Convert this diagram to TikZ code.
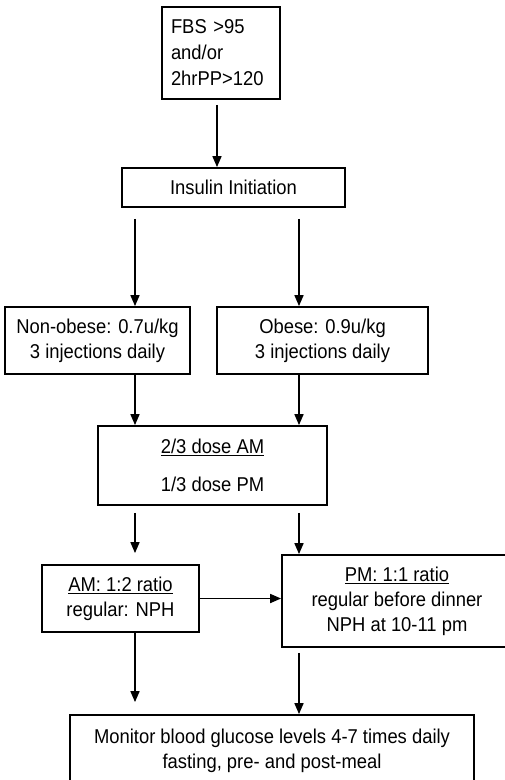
\documentclass[tikz,border=0pt]{standalone}
\usepackage{fontspec}
\setmainfont{Liberation Sans}[FakeStretch=0.92]
\usetikzlibrary{arrows.meta}
\begin{document}
\begin{tikzpicture}[x=1pt,y=-1pt,
  box/.style={draw,line width=1.8pt,inner sep=0pt,align=center,font=\fontsize{20}{25}\selectfont},
  arr/.style={line width=1.7pt,-{Triangle[length=11pt,width=9pt]}}]
\clip (0,0) rectangle (505,780);
\fill[white] (0,0) rectangle (505,780);
% columns
\coordinate (cF) at (217,0);
\coordinate (cL) at (135,0);
\coordinate (cR) at (299,0);
% boxes
\node[box,minimum width=118pt,minimum height=92pt,text width=100pt,align=left,font=\fontsize{20}{26}\selectfont] (fbs) at (221,53) {FBS >95\\and/or\\2hrPP>120};
\node[box,minimum width=223pt,minimum height=39pt] (ins) at (233.5,187.5) {Insulin Initiation};
\node[box,minimum width=185pt,minimum height=67pt] (non) at (97.5,340.5) {Non-obese: 0.7u/kg\\3 injections daily};
\node[box,minimum width=211pt,minimum height=67pt] (obe) at (322.5,340.5) {Obese: 0.9u/kg\\3 injections daily};
\node[box,minimum width=229pt,minimum height=79pt] (dose) at (212.5,465.5) {\underline{2/3 dose AM}\\[13pt]1/3 dose PM};
\node[box,minimum width=157pt,minimum height=67pt] (am) at (120.5,598.5) {\underline{AM: 1:2 ratio}\\regular: NPH};
\node[box,minimum width=230pt,minimum height=92pt] (pm) at (397,601) {\underline{PM: 1:1 ratio}\\regular before dinner\\NPH at 10-11 pm};
\node[box,minimum width=404pt,minimum height=71pt] (mon) at (272,750.5) {Monitor blood glucose levels 4-7 times daily\\fasting, pre- and post-meal};
% connectors
\draw[arr,shorten <=5pt] (fbs.south -| cF) -- (ins.north -| cF);
\draw[arr,shorten <=11pt] (ins.south -| cL) -- (non.north -| cL);
\draw[arr,shorten <=11pt] (ins.south -| cR) -- (obe.north -| cR);
\draw[arr] (non.south -| cL) -- (dose.north -| cL);
\draw[arr] (obe.south -| cR) -- (dose.north -| cR);
\draw[arr,shorten <=7pt,shorten >=11pt] (dose.south -| cL) -- (am.north -| cL);
\draw[arr,shorten <=7pt] (dose.south -| cR) -- (pm.north -| cR);
\draw[arr] (am.east) -- (am.east -| pm.west);
\draw[arr,shorten >=12pt] (am.south -| cL) -- (mon.north -| cL);
\draw[arr,shorten <=5pt] (pm.south -| cR) -- (mon.north -| cR);
\end{tikzpicture}
\end{document}
